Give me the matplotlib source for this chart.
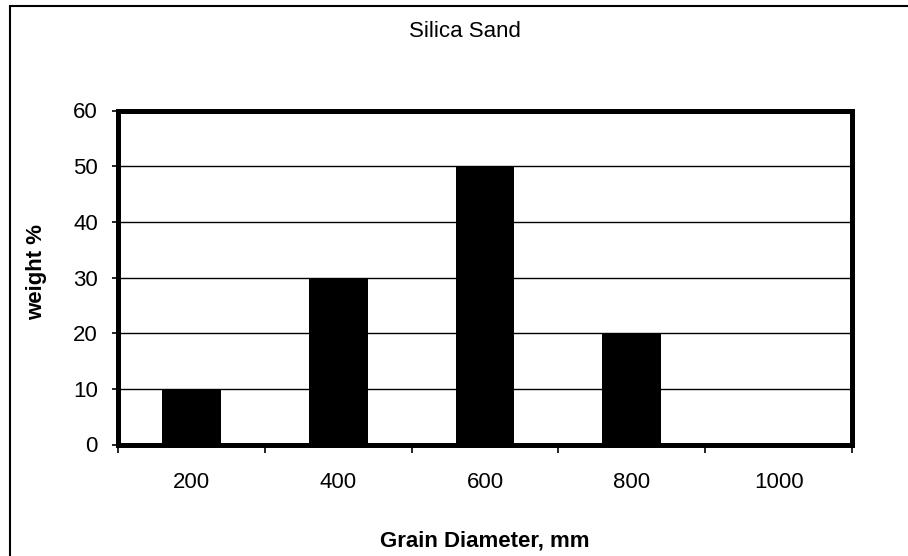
import matplotlib
matplotlib.use("Agg")
import matplotlib.pyplot as plt
from matplotlib.patches import Rectangle

plt.rcParams['font.family'] = ['Liberation Sans', 'DejaVu Sans']

categories = ["200", "400", "600", "800", "1000"]
weights = [10, 30, 50, 20, 0]
y_ticks = [0, 10, 20, 30, 40, 50, 60]

W, H = 908, 556
FS = 16
fig = plt.figure(figsize=(W / 100, H / 100), dpi=100)

# outer chart frame (extends past right/bottom edges)
fig.patches.append(Rectangle((10 / W, -0.1), 1.2, (H - 6) / H + 0.1,
                             transform=fig.transFigure, fill=False,
                             edgecolor='black', linewidth=1.5))

left, right, top, bottom = 118, 852, 110.5, 444.5
ax = fig.add_axes([left / W, 1 - bottom / H, (right - left) / W, (bottom - top) / H])

x = list(range(len(categories)))
ax.bar(x, weights, width=0.4, color='black', zorder=3)

ax.set_xlim(-0.5, len(categories) - 0.5)
ax.set_ylim(0, 60)
ax.set_yticks(y_ticks)
ax.set_yticklabels([str(v) for v in y_ticks], fontsize=FS)
ax.yaxis.grid(True, color='black', linewidth=1.0, zorder=0)

ax.set_xticks(x)
ax.set_xticklabels(categories, fontsize=FS)
ax.tick_params(axis='x', which='major', length=0, pad=19.5)
ax.set_xticks([i - 0.5 for i in range(len(categories) + 1)], minor=True)
ax.tick_params(axis='x', which='minor', length=6, width=1.2, direction='out')
ax.tick_params(axis='y', length=4.5, width=1.2, direction='out', pad=10)

for s in ax.spines.values():
    s.set_linewidth(3.6)
    s.set_color('black')

fig.text(485 / W, 1 - 546 / H, "Grain Diameter, mm", ha='center', va='baseline',
         fontsize=FS, fontweight='bold')
fig.text(37 / W, 1 - 271.5 / H, "weight %", ha='center', va='center',
         rotation=90, fontsize=FS, fontweight='bold')
fig.text(465 / W, 1 - 36.7 / H, "Silica Sand", ha='center', va='baseline', fontsize=FS)

fig.savefig("out.png", dpi=100)
